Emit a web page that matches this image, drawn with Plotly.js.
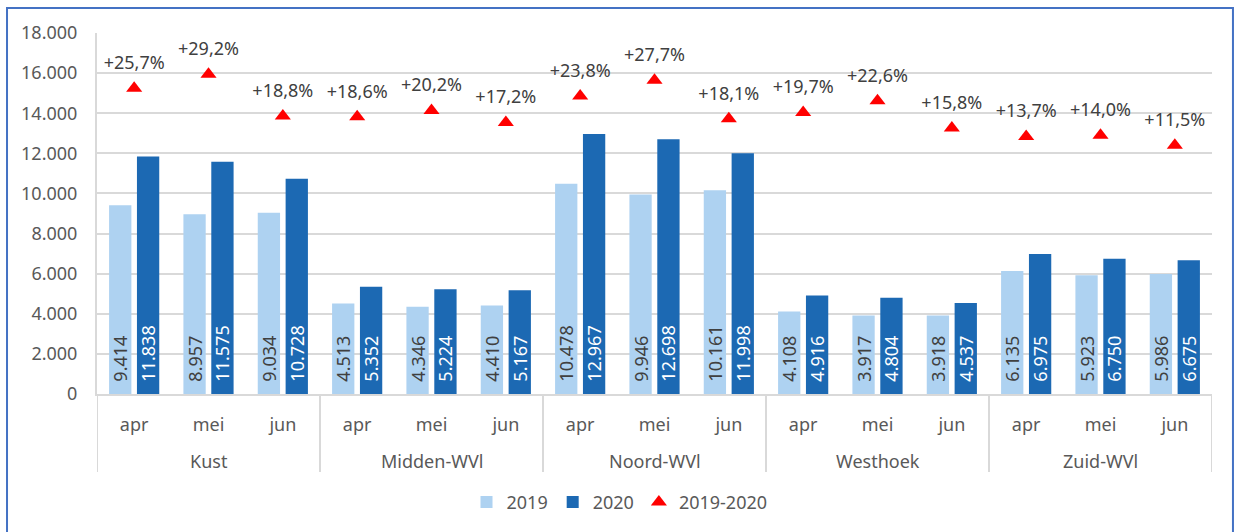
<!DOCTYPE html>
<html>
<head>
<meta charset="utf-8">
<script src="https://cdn.plot.ly/plotly-3.0.1.min.js"></script>
<style>
  html, body { margin: 0; padding: 0; background: #fff; }
  #chart { width: 1239px; height: 532px; }
</style>
</head>
<body>
<div id="chart"></div>
<script>
const regions = ['Kust', 'Midden-WVl', 'Noord-WVl', 'Westhoek', 'Zuid-WVl'];
const months = ['apr', 'mei', 'jun'];
const values2019 = [9414, 8957, 9034, 4513, 4346, 4410, 10478, 9946, 10161, 4108, 3917, 3918, 6135, 5923, 5986];
const values2020 = [11838, 11575, 10728, 5352, 5224, 5167, 12967, 12698, 11998, 4916, 4804, 4537, 6975, 6750, 6675];
const change = [25.7, 29.2, 18.8, 18.6, 20.2, 17.2, 23.8, 27.7, 18.1, 19.7, 22.6, 15.8, 13.7, 14.0, 11.5];
const seriesNames = ['2019', '2020', '2019-2020'];

// unique category keys (region | month) and their month tick labels
const cats = [], catMonths = [];
regions.forEach(r => months.forEach(m => { cats.push(r + ' | ' + m); catMonths.push(m); }));

const NB = '\u00a0\u00a0';
const fmtInt = v => NB + String(v).replace(/\B(?=(\d{3})+(?!\d))/g, '.');
const fmtPct = v => '+' + v.toFixed(1).replace('.', ',') + '%';

const FONT = '"Noto Sans", "Open Sans", sans-serif';
const AXIS_GREY = '#D9D9D9';

const traces = [
  {
    type: 'bar', name: seriesNames[0], x: cats, y: values2019,
    marker: { color: '#AED2F1' },
    text: values2019.map(fmtInt), textposition: 'inside', insidetextanchor: 'start',
    textangle: -90, insidetextfont: { family: FONT, size: 18, color: '#404040' },
    constraintext: 'none', cliponaxis: false, hoverinfo: 'skip'
  },
  {
    type: 'bar', name: seriesNames[1], x: cats, y: values2020,
    marker: { color: '#1C69B3' },
    text: values2020.map(fmtInt), textposition: 'inside', insidetextanchor: 'start',
    textangle: -90, insidetextfont: { family: FONT, size: 18, color: '#ffffff' },
    constraintext: 'none', cliponaxis: false, hoverinfo: 'skip'
  },
  {
    type: 'scatter', mode: 'markers', name: seriesNames[2], x: cats, y: change,
    yaxis: 'y2',
    marker: { symbol: 'triangle-up', size: 14, color: '#FF0000' },
    cliponaxis: false, hoverinfo: 'skip'
  },
  {
    type: 'scatter', mode: 'markers+text', name: seriesNames[2] + ' labels', x: cats, y: change,
    yaxis: 'y2', showlegend: false,
    marker: { symbol: 'circle', size: 22, color: 'rgba(0,0,0,0)' },
    text: change.map(fmtPct), textposition: 'top center',
    textfont: { family: FONT, size: 18, color: '#404040' },
    cliponaxis: false, hoverinfo: 'skip'
  }
];

// group dividers below the category axis, and region labels centred under each group
const shapes = [];
for (let g = 0; g <= regions.length; g++) {
  const pos = g * months.length - 0.5;
  shapes.push({
    type: 'line', xref: 'x', yref: 'paper', x0: pos, x1: pos, y0: 0, y1: -0.216,
    line: { color: AXIS_GREY, width: 2 }
  });
}
shapes.push({
  type: 'rect', xref: 'paper', yref: 'paper',
  x0: -0.0807, x1: 1.0188, y0: -0.6, y1: 1.0693,
  line: { color: '#4472C4', width: 2 }, fillcolor: 'rgba(0,0,0,0)', layer: 'below'
});

const annotations = regions.map((r, g) => ({
  xref: 'x', yref: 'paper', x: cats[g * months.length + 1], y: -0.1856,
  yanchor: 'middle', xanchor: 'center', showarrow: false, text: r,
  font: { family: FONT, size: 18, color: '#595959' }
}));

const layout = {
  width: 1239, height: 532,
  margin: { l: 97, r: 27, t: 33, b: 138 },
  paper_bgcolor: '#ffffff', plot_bgcolor: '#ffffff',
  separators: ',.',
  font: { family: FONT, size: 18, color: '#595959' },
  barmode: 'group', bargap: 0.25, bargroupgap: 0.2,
  showlegend: true,
  legend: {
    orientation: 'h', xref: 'container', yref: 'container',
    x: 0.5, xanchor: 'center', y: 0.056, yanchor: 'middle',
    font: { family: FONT, size: 18, color: '#595959' },
    traceorder: 'normal', itemwidth: 30
  },
  xaxis: {
    type: 'category', range: [-0.5, cats.length - 0.5],
    tickmode: 'array', tickvals: cats, ticktext: catMonths,
    showline: true, linecolor: AXIS_GREY, linewidth: 2,
    showgrid: false, ticks: '', ticklabelstandoff: 13,
    tickfont: { family: FONT, size: 18, color: '#595959' },
    fixedrange: true
  },
  yaxis: {
    range: [0, 18000], dtick: 2000, tickformat: ',d',
    showgrid: true, gridcolor: AXIS_GREY, gridwidth: 2,
    showline: true, linecolor: AXIS_GREY, linewidth: 2,
    zeroline: false, ticks: '', ticklabelstandoff: 14,
    tickfont: { family: FONT, size: 18, color: '#595959' },
    fixedrange: true
  },
  yaxis2: {
    overlaying: 'y', range: [-50.5, 39.5], visible: false, fixedrange: true
  },
  shapes: shapes,
  annotations: annotations
};

Plotly.newPlot('chart', traces, layout, { staticPlot: true, displayModeBar: false });
</script>
</body>
</html>
